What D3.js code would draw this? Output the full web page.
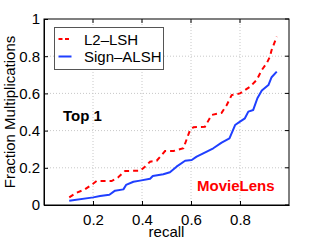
<!DOCTYPE html>
<html>
<head>
<meta charset="utf-8">
<script src="https://cdn.jsdelivr.net/npm/d3@7"></script>
<style>
body { margin: 0; background: #fff; }
svg { font-family: "Liberation Sans", Arial, sans-serif; }
</style>
</head>
<body>
<svg id="chart" width="319" height="240"></svg>
<script>
var width = 319
var height = 240
var margin = {left: 44, right: 30, top: 19, bottom: 35}

// recall values and fraction of multiplications
var l2Recall = [0.103, 0.133, 0.167, 0.199, 0.215, 0.276, 0.303, 0.331, 0.392, 0.412, 0.433, 0.46, 0.494, 0.528, 0.569, 0.596, 0.61, 0.657, 0.684, 0.725, 0.746, 0.766, 0.8, 0.841, 0.868, 0.889, 0.909, 0.922, 0.929, 0.95]
var l2Frac = [0.041, 0.066, 0.084, 0.113, 0.129, 0.129, 0.149, 0.183, 0.184, 0.206, 0.233, 0.238, 0.29, 0.29, 0.305, 0.403, 0.418, 0.421, 0.484, 0.496, 0.538, 0.591, 0.6, 0.636, 0.672, 0.726, 0.762, 0.797, 0.833, 0.905]
var signRecall = [0.103, 0.201, 0.229, 0.267, 0.29, 0.324, 0.335, 0.365, 0.392, 0.433, 0.444, 0.487, 0.514, 0.541, 0.576, 0.603, 0.623, 0.65, 0.691, 0.725, 0.757, 0.78, 0.8, 0.82, 0.834, 0.854, 0.871, 0.889, 0.916, 0.929, 0.95]
var signFrac = [0.023, 0.041, 0.048, 0.055, 0.077, 0.084, 0.108, 0.125, 0.131, 0.141, 0.156, 0.165, 0.176, 0.206, 0.238, 0.242, 0.26, 0.278, 0.305, 0.335, 0.358, 0.43, 0.448, 0.466, 0.502, 0.511, 0.574, 0.615, 0.645, 0.687, 0.717]
var xTicks = [0.2, 0.4, 0.6, 0.8]
var yTicks = [0, 0.2, 0.4, 0.6, 0.8, 1]
var seriesNames = ["L2\u2013LSH", "Sign\u2013ALSH"]
var seriesColors = ["#ff0000", "#1f3fff"]

var svg = d3.select("#chart")

var x = d3.scaleLinear().domain([0, 1]).range([margin.left, width - margin.right])
var y = d3.scaleLinear().domain([0, 1]).range([height - margin.bottom, margin.top])

// grid
svg.append("g")
    .attr("stroke", "#c8c8c8")
    .attr("stroke-dasharray", "1,2")
    .attr("stroke-width", 1)
  .call(g => g.selectAll("line.vx").data(xTicks).enter().append("line")
      .attr("x1", d => x(d)).attr("x2", d => x(d))
      .attr("y1", y(0)).attr("y2", y(1)))
  .call(g => g.selectAll("line.hy").data(yTicks.slice(1, -1)).enter().append("line")
      .attr("x1", x(0)).attr("x2", x(1))
      .attr("y1", d => y(d)).attr("y2", d => y(d)))

// axes (matlab style, ticks inward)
var xAxis = g => g
    .attr("transform", `translate(0,${y(0)})`)
    .call(d3.axisBottom(x).tickValues(xTicks).tickSize(-4).tickPadding(9).tickSizeOuter(0).tickFormat(d3.format(".1f")))
var yAxis = g => g
    .attr("transform", `translate(${x(0)},0)`)
    .call(d3.axisLeft(y).tickValues(yTicks).tickSize(-4).tickPadding(4).tickSizeOuter(0).tickFormat(d => d === 0 || d === 1 ? d : d3.format(".1f")(d)))

svg.append("g").call(xAxis)
    .call(g => g.selectAll("text").attr("font-size", 15).attr("fill", "#000"))
svg.append("g").call(yAxis)
    .call(g => g.selectAll("text").attr("font-size", 15).attr("fill", "#000"))

// right/top ticks
svg.append("g").attr("stroke", "#000")
  .call(g => g.selectAll("line.rt").data(yTicks).enter().append("line")
      .attr("x1", x(1)).attr("x2", x(1) - 4)
      .attr("y1", d => y(d)).attr("y2", d => y(d)))
  .call(g => g.selectAll("line.tt").data(xTicks).enter().append("line")
      .attr("x1", d => x(d)).attr("x2", d => x(d))
      .attr("y1", y(1)).attr("y2", y(1) + 4))

svg.append("rect")
    .attr("x", x(0)).attr("y", y(1))
    .attr("width", x(1) - x(0)).attr("height", y(0) - y(1))
    .attr("fill", "none").attr("stroke", "#000")

var line = d3.line()
    .x(d => x(d[0]))
    .y(d => y(d[1]))

svg.append("path")
    .datum(d3.zip(l2Recall, l2Frac))
    .attr("fill", "none")
    .attr("stroke", seriesColors[0])
    .attr("stroke-width", 2)
    .attr("stroke-dasharray", "5,4")
    .attr("d", line)

svg.append("path")
    .datum(d3.zip(signRecall, signFrac))
    .attr("fill", "none")
    .attr("stroke", seriesColors[1])
    .attr("stroke-width", 2)
    .attr("stroke-linejoin", "round")
    .attr("d", line)

// legend
var legend = svg.append("g").attr("transform", "translate(54.5,27.5)")
legend.append("rect")
    .attr("width", 109).attr("height", 42)
    .attr("fill", "#fff").attr("stroke", "#555")
seriesNames.forEach((name, i) => {
  var row = legend.append("g").attr("transform", `translate(0,${11.5 + i * 17.5})`)
  row.append("line")
      .attr("x1", 4).attr("x2", 17)
      .attr("stroke", seriesColors[i])
      .attr("stroke-width", 2)
      .attr("stroke-dasharray", i === 0 ? "4,2.5" : null)
  row.append("text")
      .attr("x", 29.5).attr("y", 5.5)
      .attr("font-size", 15)
      .text(name)
})

svg.append("text")
    .attr("x", 63).attr("y", 121)
    .attr("font-size", 15).attr("font-weight", "bold")
    .text("Top 1")

svg.append("text")
    .attr("x", 197).attr("y", 191)
    .attr("font-size", 15).attr("font-weight", "bold")
    .attr("fill", "#ff0000")
    .text("MovieLens")

svg.append("text")
    .attr("x", (x(0) + x(1)) / 2).attr("y", 237)
    .attr("text-anchor", "middle")
    .attr("font-size", 15)
    .text("recall")

svg.append("text")
    .attr("transform", `translate(15,${(y(0) + y(1)) / 2}) rotate(-90)`)
    .attr("text-anchor", "middle")
    .attr("font-size", 15)
    .text("Fraction Multiplications")
</script>
</body>
</html>
